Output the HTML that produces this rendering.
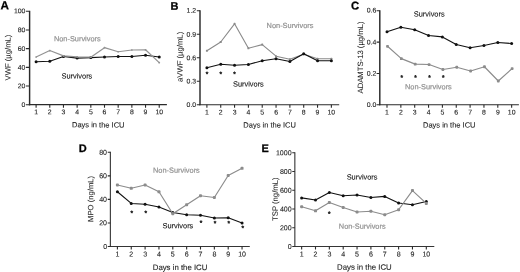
<!DOCTYPE html>
<html lang="en"><head><meta charset="utf-8"><title>Figure</title>
<style>
html,body{margin:0;padding:0;background:#fff}
body{width:520px;height:272px;overflow:hidden}
svg{display:block}
text{font-family:"Liberation Sans",Arial,Helvetica,sans-serif;text-rendering:geometricPrecision;paint-order:stroke;stroke-linejoin:round}
.pl{font-weight:bold;fill:#000;stroke:#000;stroke-width:.25px}
.tk{fill:#222222;stroke:#222222;stroke-width:.1px}
.lb{fill:#222222;stroke:#222222;stroke-width:.1px}
.yl{fill:#222222;stroke:#222222;stroke-width:.05px}
.sv{fill:#111;stroke:#111;stroke-width:.1px}
.ns{fill:#939393;stroke:#939393;stroke-width:.2px}
.st{fill:#2a2a2a;stroke:#2a2a2a;stroke-width:.55px}
</style>
</head><body>
<svg width="520" height="272" viewBox="0 0 520 272">
<rect width="520" height="272" fill="#fff"/>
<g id="panel-A">
<text class="pl" x="0.60" y="9.30" font-size="11.7" transform="rotate(0.05 0.60 9.30)">A</text>
<path d="M29.6 10.8V105.30" fill="none" stroke="#2a2a2a" stroke-width="1.45"/>
<path d="M28.88 104.7H166.9" fill="none" stroke="#2a2a2a" stroke-width="1.2"/>
<text class="tk" x="25.40" y="107.07" font-size="6.9" text-anchor="end" transform="rotate(0.05 25.40 107.07)">0</text>
<text class="tk" x="25.40" y="88.39" font-size="6.9" text-anchor="end" transform="rotate(0.05 25.40 88.39)">20</text>
<text class="tk" x="25.40" y="69.71" font-size="6.9" text-anchor="end" transform="rotate(0.05 25.40 69.71)">40</text>
<text class="tk" x="25.40" y="51.03" font-size="6.9" text-anchor="end" transform="rotate(0.05 25.40 51.03)">60</text>
<text class="tk" x="25.40" y="32.35" font-size="6.9" text-anchor="end" transform="rotate(0.05 25.40 32.35)">80</text>
<text class="tk" x="25.40" y="13.27" font-size="6.9" text-anchor="end" transform="rotate(0.05 25.40 13.27)">100</text>
<text class="tk" x="36.10" y="114.37" font-size="6.9" text-anchor="middle" transform="rotate(0.05 36.10 114.37)">1</text>
<text class="tk" x="49.78" y="114.37" font-size="6.9" text-anchor="middle" transform="rotate(0.05 49.78 114.37)">2</text>
<text class="tk" x="63.46" y="114.37" font-size="6.9" text-anchor="middle" transform="rotate(0.05 63.46 114.37)">3</text>
<text class="tk" x="77.14" y="114.37" font-size="6.9" text-anchor="middle" transform="rotate(0.05 77.14 114.37)">4</text>
<text class="tk" x="90.82" y="114.37" font-size="6.9" text-anchor="middle" transform="rotate(0.05 90.82 114.37)">5</text>
<text class="tk" x="104.50" y="114.37" font-size="6.9" text-anchor="middle" transform="rotate(0.05 104.50 114.37)">6</text>
<text class="tk" x="118.18" y="114.37" font-size="6.9" text-anchor="middle" transform="rotate(0.05 118.18 114.37)">7</text>
<text class="tk" x="131.86" y="114.37" font-size="6.9" text-anchor="middle" transform="rotate(0.05 131.86 114.37)">8</text>
<text class="tk" x="145.54" y="114.37" font-size="6.9" text-anchor="middle" transform="rotate(0.05 145.54 114.37)">9</text>
<text class="tk" x="159.22" y="114.37" font-size="6.9" text-anchor="middle" transform="rotate(0.05 159.22 114.37)">10</text>
<path d="M25.900000000000002 104.70H29.6M25.900000000000002 86.02H29.6M25.900000000000002 67.34H29.6M25.900000000000002 48.66H29.6M25.900000000000002 29.98H29.6M25.900000000000002 11.30H29.6M36.10 104.7V107.7M49.78 104.7V107.7M63.46 104.7V107.7M77.14 104.7V107.7M90.82 104.7V107.7M104.50 104.7V107.7M118.18 104.7V107.7M131.86 104.7V107.7M145.54 104.7V107.7M159.22 104.7V107.7" fill="none" stroke="#2a2a2a" stroke-width="1.1"/>
<text class="lb" x="98.25" y="127.39" font-size="7.5" text-anchor="middle" transform="rotate(0.05 98.25 127.39)">Days in the ICU</text>
<text class="yl" transform="translate(10.56 57.50) rotate(-89.95)" font-size="7.7" text-anchor="middle">VWF (µg/mL)</text>
<polyline points="36.10,61.80 49.78,61.20 63.46,56.40 77.14,58.10 90.82,57.60 104.50,57.00 118.18,56.55 131.86,56.55 145.54,55.20 159.22,57.00" fill="none" stroke="#111111" stroke-width="1.1" stroke-linejoin="round"/>
<circle cx="36.10" cy="61.80" r="1.5" fill="#111111"/>
<circle cx="49.78" cy="61.20" r="1.5" fill="#111111"/>
<circle cx="63.46" cy="56.40" r="1.5" fill="#111111"/>
<circle cx="77.14" cy="58.10" r="1.5" fill="#111111"/>
<circle cx="90.82" cy="57.60" r="1.5" fill="#111111"/>
<circle cx="104.50" cy="57.00" r="1.5" fill="#111111"/>
<circle cx="118.18" cy="56.55" r="1.5" fill="#111111"/>
<circle cx="131.86" cy="56.55" r="1.5" fill="#111111"/>
<circle cx="145.54" cy="55.20" r="1.5" fill="#111111"/>
<circle cx="159.22" cy="57.00" r="1.5" fill="#111111"/>
<polyline points="36.10,57.00 49.78,50.55 63.46,55.90 77.14,56.90 90.82,57.20 104.50,47.70 118.18,51.75 131.86,50.00 145.54,49.80 159.22,62.60" fill="none" stroke="#939393" stroke-width="1.2" stroke-linejoin="round"/>
<rect x="35.25" y="56.15" width="1.7" height="1.7" rx="0.51" fill="#939393"/>
<rect x="48.93" y="49.70" width="1.7" height="1.7" rx="0.51" fill="#939393"/>
<rect x="62.61" y="55.05" width="1.7" height="1.7" rx="0.51" fill="#939393"/>
<rect x="76.29" y="56.05" width="1.7" height="1.7" rx="0.51" fill="#939393"/>
<rect x="89.97" y="56.35" width="1.7" height="1.7" rx="0.51" fill="#939393"/>
<rect x="103.65" y="46.85" width="1.7" height="1.7" rx="0.51" fill="#939393"/>
<rect x="117.33" y="50.90" width="1.7" height="1.7" rx="0.51" fill="#939393"/>
<rect x="131.01" y="49.15" width="1.7" height="1.7" rx="0.51" fill="#939393"/>
<rect x="144.69" y="48.95" width="1.7" height="1.7" rx="0.51" fill="#939393"/>
<rect x="158.37" y="61.75" width="1.7" height="1.7" rx="0.51" fill="#939393"/>
<text class="sv" x="61.50" y="78.50" font-size="7.4" transform="rotate(0.05 61.50 78.50)">Survivors</text>
<text class="ns" x="53.90" y="41.20" font-size="7.4" transform="rotate(0.05 53.90 41.20)">Non-Survivors</text>
</g>
<g id="panel-B">
<text class="pl" x="170.60" y="9.80" font-size="11" transform="rotate(0.05 170.60 9.80)">B</text>
<path d="M200.0 10.3V105.35" fill="none" stroke="#2a2a2a" stroke-width="1.45"/>
<path d="M199.28 104.75H339.2" fill="none" stroke="#2a2a2a" stroke-width="1.2"/>
<text class="tk" x="196.20" y="107.12" font-size="6.9" text-anchor="end" transform="rotate(0.05 196.20 107.12)">0.0</text>
<text class="tk" x="196.20" y="83.63" font-size="6.9" text-anchor="end" transform="rotate(0.05 196.20 83.63)">0.3</text>
<text class="tk" x="196.20" y="60.15" font-size="6.9" text-anchor="end" transform="rotate(0.05 196.20 60.15)">0.6</text>
<text class="tk" x="196.20" y="36.66" font-size="6.9" text-anchor="end" transform="rotate(0.05 196.20 36.66)">0.9</text>
<text class="tk" x="196.20" y="12.67" font-size="6.9" text-anchor="end" transform="rotate(0.05 196.20 12.67)">1.2</text>
<text class="tk" x="206.90" y="114.42" font-size="6.9" text-anchor="middle" transform="rotate(0.05 206.90 114.42)">1</text>
<text class="tk" x="220.73" y="114.42" font-size="6.9" text-anchor="middle" transform="rotate(0.05 220.73 114.42)">2</text>
<text class="tk" x="234.56" y="114.42" font-size="6.9" text-anchor="middle" transform="rotate(0.05 234.56 114.42)">3</text>
<text class="tk" x="248.39" y="114.42" font-size="6.9" text-anchor="middle" transform="rotate(0.05 248.39 114.42)">4</text>
<text class="tk" x="262.22" y="114.42" font-size="6.9" text-anchor="middle" transform="rotate(0.05 262.22 114.42)">5</text>
<text class="tk" x="276.05" y="114.42" font-size="6.9" text-anchor="middle" transform="rotate(0.05 276.05 114.42)">6</text>
<text class="tk" x="289.88" y="114.42" font-size="6.9" text-anchor="middle" transform="rotate(0.05 289.88 114.42)">7</text>
<text class="tk" x="303.71" y="114.42" font-size="6.9" text-anchor="middle" transform="rotate(0.05 303.71 114.42)">8</text>
<text class="tk" x="317.54" y="114.42" font-size="6.9" text-anchor="middle" transform="rotate(0.05 317.54 114.42)">9</text>
<text class="tk" x="331.37" y="114.42" font-size="6.9" text-anchor="middle" transform="rotate(0.05 331.37 114.42)">10</text>
<path d="M196.8 104.75H200.0M196.8 81.26H200.0M196.8 57.77H200.0M196.8 34.29H200.0M196.8 10.80H200.0M206.90 104.75V107.75M220.73 104.75V107.75M234.56 104.75V107.75M248.39 104.75V107.75M262.22 104.75V107.75M276.05 104.75V107.75M289.88 104.75V107.75M303.71 104.75V107.75M317.54 104.75V107.75M331.37 104.75V107.75" fill="none" stroke="#2a2a2a" stroke-width="1.1"/>
<text class="lb" x="269.60" y="127.44" font-size="7.5" text-anchor="middle" transform="rotate(0.05 269.60 127.44)">Days in the ICU</text>
<text class="yl" transform="translate(182.56 56.88) rotate(-89.95)" font-size="7.7" text-anchor="middle">aVWF (µg/mL)</text>
<polyline points="206.90,50.80 220.73,42.00 234.56,23.80 248.39,48.30 262.22,44.60 276.05,56.20 289.88,59.20 303.71,54.25 317.54,58.75 331.37,58.75" fill="none" stroke="#8a8a8a" stroke-width="1.1" stroke-linejoin="round"/>
<rect x="205.90" y="49.80" width="2.0" height="2.0" rx="0.60" fill="#8a8a8a"/>
<rect x="219.73" y="41.00" width="2.0" height="2.0" rx="0.60" fill="#8a8a8a"/>
<rect x="233.56" y="22.80" width="2.0" height="2.0" rx="0.60" fill="#8a8a8a"/>
<rect x="247.39" y="47.30" width="2.0" height="2.0" rx="0.60" fill="#8a8a8a"/>
<rect x="261.22" y="43.60" width="2.0" height="2.0" rx="0.60" fill="#8a8a8a"/>
<rect x="275.05" y="55.20" width="2.0" height="2.0" rx="0.60" fill="#8a8a8a"/>
<rect x="288.88" y="58.20" width="2.0" height="2.0" rx="0.60" fill="#8a8a8a"/>
<rect x="302.71" y="53.25" width="2.0" height="2.0" rx="0.60" fill="#8a8a8a"/>
<rect x="316.54" y="57.75" width="2.0" height="2.0" rx="0.60" fill="#8a8a8a"/>
<rect x="330.37" y="57.75" width="2.0" height="2.0" rx="0.60" fill="#8a8a8a"/>
<polyline points="206.90,67.75 220.73,64.30 234.56,65.30 248.39,64.50 262.22,60.70 276.05,58.75 289.88,61.45 303.71,53.80 317.54,60.70 331.37,60.70" fill="none" stroke="#111111" stroke-width="1.1" stroke-linejoin="round"/>
<circle cx="206.90" cy="67.75" r="1.5" fill="#111111"/>
<circle cx="220.73" cy="64.30" r="1.5" fill="#111111"/>
<circle cx="234.56" cy="65.30" r="1.5" fill="#111111"/>
<circle cx="248.39" cy="64.50" r="1.5" fill="#111111"/>
<circle cx="262.22" cy="60.70" r="1.5" fill="#111111"/>
<circle cx="276.05" cy="58.75" r="1.5" fill="#111111"/>
<circle cx="289.88" cy="61.45" r="1.5" fill="#111111"/>
<circle cx="303.71" cy="53.80" r="1.5" fill="#111111"/>
<circle cx="317.54" cy="60.70" r="1.5" fill="#111111"/>
<circle cx="331.37" cy="60.70" r="1.5" fill="#111111"/>
<text class="st" x="206.90" y="76.33" font-size="6.5" text-anchor="middle" transform="rotate(0.05 206.90 76.33)">*</text>
<text class="st" x="220.73" y="76.33" font-size="6.5" text-anchor="middle" transform="rotate(0.05 220.73 76.33)">*</text>
<text class="st" x="234.56" y="76.33" font-size="6.5" text-anchor="middle" transform="rotate(0.05 234.56 76.33)">*</text>
<text class="sv" x="233.00" y="86.50" font-size="7.4" transform="rotate(0.05 233.00 86.50)">Survivors</text>
<text class="ns" x="266.60" y="28.00" font-size="7.4" transform="rotate(0.05 266.60 28.00)">Non-Survivors</text>
</g>
<g id="panel-C">
<text class="pl" x="351.10" y="9.40" font-size="11.3" transform="rotate(0.05 351.10 9.40)">C</text>
<path d="M379.8 10.3V105.35" fill="none" stroke="#2a2a2a" stroke-width="1.45"/>
<path d="M379.07 104.75H518.9" fill="none" stroke="#2a2a2a" stroke-width="1.2"/>
<text class="tk" x="376.30" y="107.12" font-size="6.9" text-anchor="end" transform="rotate(0.05 376.30 107.12)">0.0</text>
<text class="tk" x="376.30" y="75.80" font-size="6.9" text-anchor="end" transform="rotate(0.05 376.30 75.80)">0.2</text>
<text class="tk" x="376.30" y="44.49" font-size="6.9" text-anchor="end" transform="rotate(0.05 376.30 44.49)">0.4</text>
<text class="tk" x="376.30" y="12.57" font-size="6.9" text-anchor="end" transform="rotate(0.05 376.30 12.57)">0.6</text>
<text class="tk" x="387.00" y="114.52" font-size="6.9" text-anchor="middle" transform="rotate(0.05 387.00 114.52)">1</text>
<text class="tk" x="400.85" y="114.52" font-size="6.9" text-anchor="middle" transform="rotate(0.05 400.85 114.52)">2</text>
<text class="tk" x="414.70" y="114.52" font-size="6.9" text-anchor="middle" transform="rotate(0.05 414.70 114.52)">3</text>
<text class="tk" x="428.55" y="114.52" font-size="6.9" text-anchor="middle" transform="rotate(0.05 428.55 114.52)">4</text>
<text class="tk" x="442.40" y="114.52" font-size="6.9" text-anchor="middle" transform="rotate(0.05 442.40 114.52)">5</text>
<text class="tk" x="456.25" y="114.52" font-size="6.9" text-anchor="middle" transform="rotate(0.05 456.25 114.52)">6</text>
<text class="tk" x="470.10" y="114.52" font-size="6.9" text-anchor="middle" transform="rotate(0.05 470.10 114.52)">7</text>
<text class="tk" x="483.95" y="114.52" font-size="6.9" text-anchor="middle" transform="rotate(0.05 483.95 114.52)">8</text>
<text class="tk" x="497.80" y="114.52" font-size="6.9" text-anchor="middle" transform="rotate(0.05 497.80 114.52)">9</text>
<text class="tk" x="511.65" y="114.52" font-size="6.9" text-anchor="middle" transform="rotate(0.05 511.65 114.52)">10</text>
<path d="M376.6 104.75H379.8M376.6 73.43H379.8M376.6 42.12H379.8M376.6 10.80H379.8M387.00 104.75V107.75M400.85 104.75V107.75M414.70 104.75V107.75M428.55 104.75V107.75M442.40 104.75V107.75M456.25 104.75V107.75M470.10 104.75V107.75M483.95 104.75V107.75M497.80 104.75V107.75M511.65 104.75V107.75" fill="none" stroke="#2a2a2a" stroke-width="1.1"/>
<text class="lb" x="449.25" y="127.53" font-size="7.5" text-anchor="middle" transform="rotate(0.05 449.25 127.53)">Days in the ICU</text>
<text class="yl" transform="translate(363.06 57.48) rotate(-89.95)" font-size="7.7" text-anchor="middle">ADAMTS-13 (µg/mL)</text>
<polyline points="387.00,31.80 400.85,27.30 414.70,29.70 428.55,35.50 442.40,36.90 456.25,44.55 470.10,47.70 483.95,45.45 497.80,42.45 511.65,43.50" fill="none" stroke="#111111" stroke-width="1.1" stroke-linejoin="round"/>
<circle cx="387.00" cy="31.80" r="1.5" fill="#111111"/>
<circle cx="400.85" cy="27.30" r="1.5" fill="#111111"/>
<circle cx="414.70" cy="29.70" r="1.5" fill="#111111"/>
<circle cx="428.55" cy="35.50" r="1.5" fill="#111111"/>
<circle cx="442.40" cy="36.90" r="1.5" fill="#111111"/>
<circle cx="456.25" cy="44.55" r="1.5" fill="#111111"/>
<circle cx="470.10" cy="47.70" r="1.5" fill="#111111"/>
<circle cx="483.95" cy="45.45" r="1.5" fill="#111111"/>
<circle cx="497.80" cy="42.45" r="1.5" fill="#111111"/>
<circle cx="511.65" cy="43.50" r="1.5" fill="#111111"/>
<polyline points="387.50,46.30 401.35,58.60 415.20,64.10 429.05,64.55 442.90,69.50 456.75,67.25 470.60,71.00 484.45,66.75 498.30,81.00 512.15,68.55" fill="none" stroke="#8c8c8c" stroke-width="1.15" stroke-linejoin="round"/>
<rect x="386.10" y="44.90" width="2.8" height="2.8" rx="0.84" fill="#8c8c8c"/>
<rect x="399.95" y="57.20" width="2.8" height="2.8" rx="0.84" fill="#8c8c8c"/>
<rect x="413.80" y="62.70" width="2.8" height="2.8" rx="0.84" fill="#8c8c8c"/>
<rect x="427.65" y="63.15" width="2.8" height="2.8" rx="0.84" fill="#8c8c8c"/>
<rect x="441.50" y="68.10" width="2.8" height="2.8" rx="0.84" fill="#8c8c8c"/>
<rect x="455.35" y="65.85" width="2.8" height="2.8" rx="0.84" fill="#8c8c8c"/>
<rect x="469.20" y="69.60" width="2.8" height="2.8" rx="0.84" fill="#8c8c8c"/>
<rect x="483.05" y="65.35" width="2.8" height="2.8" rx="0.84" fill="#8c8c8c"/>
<rect x="496.90" y="79.60" width="2.8" height="2.8" rx="0.84" fill="#8c8c8c"/>
<rect x="510.75" y="67.15" width="2.8" height="2.8" rx="0.84" fill="#8c8c8c"/>
<text class="st" x="401.75" y="79.83" font-size="6.5" text-anchor="middle" transform="rotate(0.05 401.75 79.83)">*</text>
<text class="st" x="415.60" y="79.83" font-size="6.5" text-anchor="middle" transform="rotate(0.05 415.60 79.83)">*</text>
<text class="st" x="429.45" y="79.83" font-size="6.5" text-anchor="middle" transform="rotate(0.05 429.45 79.83)">*</text>
<text class="st" x="443.30" y="79.83" font-size="6.5" text-anchor="middle" transform="rotate(0.05 443.30 79.83)">*</text>
<text class="sv" x="413.80" y="16.50" font-size="7.4" transform="rotate(0.05 413.80 16.50)">Survivors</text>
<text class="ns" x="405.00" y="89.30" font-size="7.4" transform="rotate(0.05 405.00 89.30)">Non-Survivors</text>
</g>
<g id="panel-D">
<text class="pl" x="78.70" y="152.00" font-size="11" transform="rotate(0.05 78.70 152.00)">D</text>
<path d="M110.35 151.8V246.97" fill="none" stroke="#2a2a2a" stroke-width="1.05"/>
<path d="M109.82 246.5H249.8" fill="none" stroke="#2a2a2a" stroke-width="0.95"/>
<text class="tk" x="107.05" y="248.92" font-size="7.05" text-anchor="end" transform="rotate(0.05 107.05 248.92)">0</text>
<text class="tk" x="107.05" y="225.37" font-size="7.05" text-anchor="end" transform="rotate(0.05 107.05 225.37)">20</text>
<text class="tk" x="107.05" y="201.82" font-size="7.05" text-anchor="end" transform="rotate(0.05 107.05 201.82)">40</text>
<text class="tk" x="107.05" y="178.27" font-size="7.05" text-anchor="end" transform="rotate(0.05 107.05 178.27)">60</text>
<text class="tk" x="107.05" y="154.72" font-size="7.05" text-anchor="end" transform="rotate(0.05 107.05 154.72)">80</text>
<text class="tk" x="117.40" y="256.62" font-size="7.05" text-anchor="middle" transform="rotate(0.05 117.40 256.62)">1</text>
<text class="tk" x="131.25" y="256.62" font-size="7.05" text-anchor="middle" transform="rotate(0.05 131.25 256.62)">2</text>
<text class="tk" x="145.10" y="256.62" font-size="7.05" text-anchor="middle" transform="rotate(0.05 145.10 256.62)">3</text>
<text class="tk" x="158.95" y="256.62" font-size="7.05" text-anchor="middle" transform="rotate(0.05 158.95 256.62)">4</text>
<text class="tk" x="172.80" y="256.62" font-size="7.05" text-anchor="middle" transform="rotate(0.05 172.80 256.62)">5</text>
<text class="tk" x="186.65" y="256.62" font-size="7.05" text-anchor="middle" transform="rotate(0.05 186.65 256.62)">6</text>
<text class="tk" x="200.50" y="256.62" font-size="7.05" text-anchor="middle" transform="rotate(0.05 200.50 256.62)">7</text>
<text class="tk" x="214.35" y="256.62" font-size="7.05" text-anchor="middle" transform="rotate(0.05 214.35 256.62)">8</text>
<text class="tk" x="228.20" y="256.62" font-size="7.05" text-anchor="middle" transform="rotate(0.05 228.20 256.62)">9</text>
<text class="tk" x="242.05" y="256.62" font-size="7.05" text-anchor="middle" transform="rotate(0.05 242.05 256.62)">10</text>
<path d="M107.75 246.50H110.35M107.75 222.95H110.35M107.75 199.40H110.35M107.75 175.85H110.35M107.75 152.30H110.35M117.40 246.5V249.5M131.25 246.5V249.5M145.10 246.5V249.5M158.95 246.5V249.5M172.80 246.5V249.5M186.65 246.5V249.5M200.50 246.5V249.5M214.35 246.5V249.5M228.20 246.5V249.5M242.05 246.5V249.5" fill="none" stroke="#2a2a2a" stroke-width="1.1"/>
<text class="lb" x="180.07" y="270.09" font-size="7.8" text-anchor="middle" transform="rotate(0.05 180.07 270.09)">Days in the ICU</text>
<text class="yl" transform="translate(93.16 198.90) rotate(-89.95)" font-size="7.7" text-anchor="middle">MPO (ng/mL)</text>
<polyline points="117.40,191.75 131.25,203.45 145.10,204.20 158.95,207.00 172.80,212.50 186.65,214.75 200.50,215.20 214.35,218.00 228.20,217.75 242.05,223.00" fill="none" stroke="#111111" stroke-width="1.1" stroke-linejoin="round"/>
<circle cx="117.40" cy="191.75" r="1.5" fill="#111111"/>
<circle cx="131.25" cy="203.45" r="1.5" fill="#111111"/>
<circle cx="145.10" cy="204.20" r="1.5" fill="#111111"/>
<circle cx="158.95" cy="207.00" r="1.5" fill="#111111"/>
<circle cx="172.80" cy="212.50" r="1.5" fill="#111111"/>
<circle cx="186.65" cy="214.75" r="1.5" fill="#111111"/>
<circle cx="200.50" cy="215.20" r="1.5" fill="#111111"/>
<circle cx="214.35" cy="218.00" r="1.5" fill="#111111"/>
<circle cx="228.20" cy="217.75" r="1.5" fill="#111111"/>
<circle cx="242.05" cy="223.00" r="1.5" fill="#111111"/>
<polyline points="117.40,185.00 131.25,188.30 145.10,185.00 158.95,191.80 172.80,213.70 186.65,204.70 200.50,195.70 214.35,197.50 228.20,175.50 242.05,168.30" fill="none" stroke="#8c8c8c" stroke-width="1.15" stroke-linejoin="round"/>
<rect x="115.90" y="183.50" width="3.0" height="3.0" rx="0.90" fill="#8c8c8c"/>
<rect x="129.75" y="186.80" width="3.0" height="3.0" rx="0.90" fill="#8c8c8c"/>
<rect x="143.60" y="183.50" width="3.0" height="3.0" rx="0.90" fill="#8c8c8c"/>
<rect x="157.45" y="190.30" width="3.0" height="3.0" rx="0.90" fill="#8c8c8c"/>
<rect x="171.30" y="212.20" width="3.0" height="3.0" rx="0.90" fill="#8c8c8c"/>
<rect x="185.15" y="203.20" width="3.0" height="3.0" rx="0.90" fill="#8c8c8c"/>
<rect x="199.00" y="194.20" width="3.0" height="3.0" rx="0.90" fill="#8c8c8c"/>
<rect x="212.85" y="196.00" width="3.0" height="3.0" rx="0.90" fill="#8c8c8c"/>
<rect x="226.70" y="174.00" width="3.0" height="3.0" rx="0.90" fill="#8c8c8c"/>
<rect x="240.55" y="166.80" width="3.0" height="3.0" rx="0.90" fill="#8c8c8c"/>
<text class="st" x="131.85" y="215.23" font-size="6.5" text-anchor="middle" transform="rotate(0.05 131.85 215.23)">*</text>
<text class="st" x="145.70" y="215.23" font-size="6.5" text-anchor="middle" transform="rotate(0.05 145.70 215.23)">*</text>
<text class="st" x="201.10" y="225.03" font-size="6.5" text-anchor="middle" transform="rotate(0.05 201.10 225.03)">*</text>
<text class="st" x="214.95" y="225.63" font-size="6.5" text-anchor="middle" transform="rotate(0.05 214.95 225.63)">*</text>
<text class="st" x="228.80" y="225.63" font-size="6.5" text-anchor="middle" transform="rotate(0.05 228.80 225.63)">*</text>
<text class="st" x="242.65" y="230.23" font-size="6.5" text-anchor="middle" transform="rotate(0.05 242.65 230.23)">*</text>
<text class="sv" x="162.50" y="228.20" font-size="7.4" transform="rotate(0.05 162.50 228.20)">Survivors</text>
<text class="ns" x="153.00" y="172.70" font-size="7.4" transform="rotate(0.05 153.00 172.70)">Non-Survivors</text>
</g>
<g id="panel-E">
<text class="pl" x="261.40" y="152.00" font-size="11" transform="rotate(0.05 261.40 152.00)">E</text>
<path d="M294.85 152.2V246.97" fill="none" stroke="#2a2a2a" stroke-width="1.05"/>
<path d="M294.33 246.5H434.3" fill="none" stroke="#2a2a2a" stroke-width="0.95"/>
<text class="tk" x="291.65" y="249.12" font-size="7.05" text-anchor="end" transform="rotate(0.05 291.65 249.12)">0</text>
<text class="tk" x="291.65" y="230.36" font-size="7.05" text-anchor="end" transform="rotate(0.05 291.65 230.36)">200</text>
<text class="tk" x="291.65" y="211.60" font-size="7.05" text-anchor="end" transform="rotate(0.05 291.65 211.60)">400</text>
<text class="tk" x="291.65" y="192.84" font-size="7.05" text-anchor="end" transform="rotate(0.05 291.65 192.84)">600</text>
<text class="tk" x="291.65" y="174.08" font-size="7.05" text-anchor="end" transform="rotate(0.05 291.65 174.08)">800</text>
<text class="tk" x="291.65" y="155.32" font-size="7.05" text-anchor="end" transform="rotate(0.05 291.65 155.32)">1000</text>
<text class="tk" x="301.65" y="256.42" font-size="7.05" text-anchor="middle" transform="rotate(0.05 301.65 256.42)">1</text>
<text class="tk" x="315.50" y="256.42" font-size="7.05" text-anchor="middle" transform="rotate(0.05 315.50 256.42)">2</text>
<text class="tk" x="329.35" y="256.42" font-size="7.05" text-anchor="middle" transform="rotate(0.05 329.35 256.42)">3</text>
<text class="tk" x="343.20" y="256.42" font-size="7.05" text-anchor="middle" transform="rotate(0.05 343.20 256.42)">4</text>
<text class="tk" x="357.05" y="256.42" font-size="7.05" text-anchor="middle" transform="rotate(0.05 357.05 256.42)">5</text>
<text class="tk" x="370.90" y="256.42" font-size="7.05" text-anchor="middle" transform="rotate(0.05 370.90 256.42)">6</text>
<text class="tk" x="384.75" y="256.42" font-size="7.05" text-anchor="middle" transform="rotate(0.05 384.75 256.42)">7</text>
<text class="tk" x="398.60" y="256.42" font-size="7.05" text-anchor="middle" transform="rotate(0.05 398.60 256.42)">8</text>
<text class="tk" x="412.45" y="256.42" font-size="7.05" text-anchor="middle" transform="rotate(0.05 412.45 256.42)">9</text>
<text class="tk" x="426.30" y="256.42" font-size="7.05" text-anchor="middle" transform="rotate(0.05 426.30 256.42)">10</text>
<path d="M292.25 246.50H294.85M292.25 227.74H294.85M292.25 208.98H294.85M292.25 190.22H294.85M292.25 171.46H294.85M292.25 152.70H294.85M301.65 246.5V249.5M315.50 246.5V249.5M329.35 246.5V249.5M343.20 246.5V249.5M357.05 246.5V249.5M370.90 246.5V249.5M384.75 246.5V249.5M398.60 246.5V249.5M412.45 246.5V249.5M426.30 246.5V249.5" fill="none" stroke="#2a2a2a" stroke-width="1.1"/>
<text class="lb" x="364.38" y="269.69" font-size="7.8" text-anchor="middle" transform="rotate(0.05 364.38 269.69)">Days in the ICU</text>
<text class="yl" transform="translate(277.76 199.20) rotate(-89.95)" font-size="7.7" text-anchor="middle">TSP (ng/mL)</text>
<polyline points="301.65,197.90 315.50,200.00 329.35,192.50 343.20,195.80 357.05,195.00 370.90,197.45 384.75,196.40 398.60,203.00 412.45,204.80 426.30,201.50" fill="none" stroke="#111111" stroke-width="1.1" stroke-linejoin="round"/>
<circle cx="301.65" cy="197.90" r="1.5" fill="#111111"/>
<circle cx="315.50" cy="200.00" r="1.5" fill="#111111"/>
<circle cx="329.35" cy="192.50" r="1.5" fill="#111111"/>
<circle cx="343.20" cy="195.80" r="1.5" fill="#111111"/>
<circle cx="357.05" cy="195.00" r="1.5" fill="#111111"/>
<circle cx="370.90" cy="197.45" r="1.5" fill="#111111"/>
<circle cx="384.75" cy="196.40" r="1.5" fill="#111111"/>
<circle cx="398.60" cy="203.00" r="1.5" fill="#111111"/>
<circle cx="412.45" cy="204.80" r="1.5" fill="#111111"/>
<circle cx="426.30" cy="201.50" r="1.5" fill="#111111"/>
<polyline points="301.65,206.75 315.50,210.80 329.35,202.50 343.20,207.50 357.05,212.00 370.90,211.25 384.75,214.70 398.60,209.75 412.45,190.55 426.30,203.45" fill="none" stroke="#8c8c8c" stroke-width="1.15" stroke-linejoin="round"/>
<rect x="300.15" y="205.25" width="3.0" height="3.0" rx="0.90" fill="#8c8c8c"/>
<rect x="314.00" y="209.30" width="3.0" height="3.0" rx="0.90" fill="#8c8c8c"/>
<rect x="327.85" y="201.00" width="3.0" height="3.0" rx="0.90" fill="#8c8c8c"/>
<rect x="341.70" y="206.00" width="3.0" height="3.0" rx="0.90" fill="#8c8c8c"/>
<rect x="355.55" y="210.50" width="3.0" height="3.0" rx="0.90" fill="#8c8c8c"/>
<rect x="369.40" y="209.75" width="3.0" height="3.0" rx="0.90" fill="#8c8c8c"/>
<rect x="383.25" y="213.20" width="3.0" height="3.0" rx="0.90" fill="#8c8c8c"/>
<rect x="397.10" y="208.25" width="3.0" height="3.0" rx="0.90" fill="#8c8c8c"/>
<rect x="410.95" y="189.05" width="3.0" height="3.0" rx="0.90" fill="#8c8c8c"/>
<rect x="424.80" y="201.95" width="3.0" height="3.0" rx="0.90" fill="#8c8c8c"/>
<text class="st" x="329.35" y="216.08" font-size="6.5" text-anchor="middle" transform="rotate(0.05 329.35 216.08)">*</text>
<text class="sv" x="346.70" y="179.50" font-size="7.4" transform="rotate(0.05 346.70 179.50)">Survivors</text>
<text class="ns" x="338.80" y="228.70" font-size="7.4" transform="rotate(0.05 338.80 228.70)">Non-Survivors</text>
</g>
</svg></body></html>
